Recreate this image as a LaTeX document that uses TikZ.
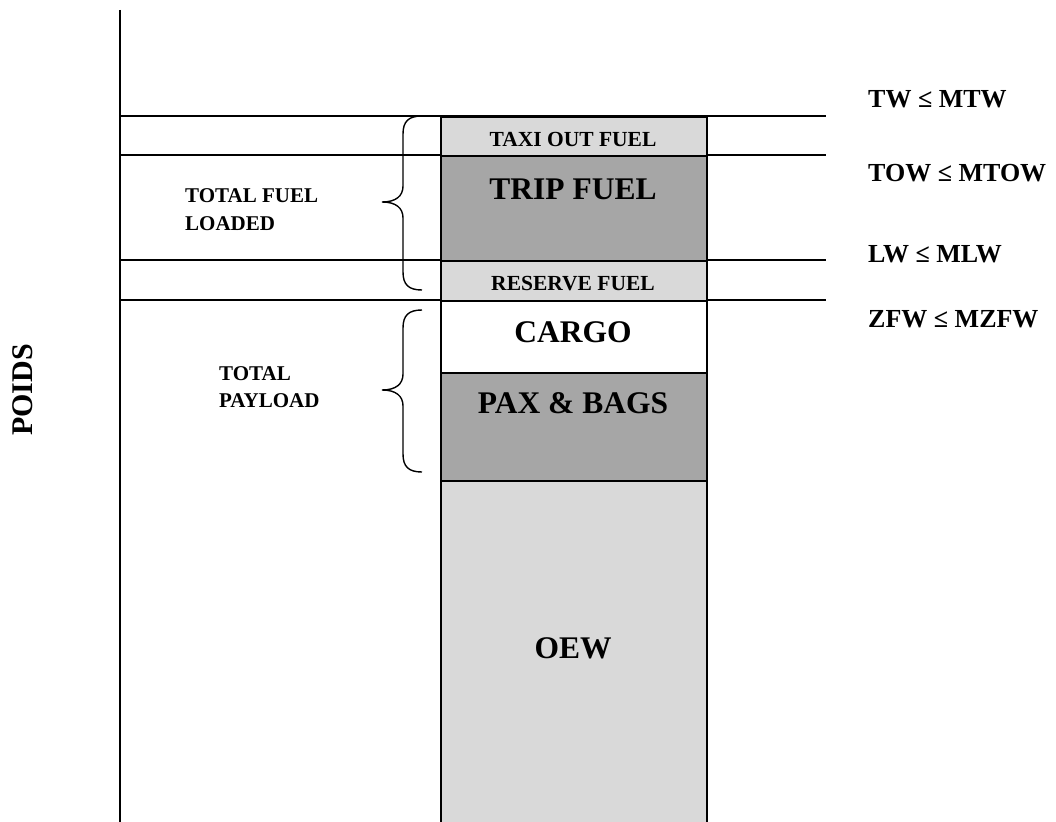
\documentclass[tikz,border=0pt]{standalone}
\usepackage{fontspec}
\setmainfont{Liberation Serif}
\begin{document}
\begin{tikzpicture}[x=1pt,y=-1pt,
  ln/.style={line width=1.7pt,black},
  boxl/.style={draw=black,line width=1.7pt,fill=light,inner sep=0pt,minimum width=266pt,anchor=north west},
  big/.style={font=\fontsize{31.5}{34}\selectfont\bfseries,anchor=base,inner sep=0pt},
  small/.style={font=\fontsize{21.5}{24}\selectfont\bfseries,anchor=base,inner sep=0pt},
  side/.style={font=\fontsize{21}{28}\selectfont\bfseries,anchor=base west,inner sep=0pt},
  lim/.style={font=\fontsize{26}{30}\selectfont\bfseries,anchor=base west,inner sep=0pt},
  brace/.style={line width=1.4pt,black}
]
\definecolor{light}{HTML}{D9D9D9}
\definecolor{dark}{HTML}{A6A6A6}
\clip (0,0) rectangle (1056,821);
\fill[white] (0,0) rectangle (1056,821);
% axis
\coordinate (axtop) at (120,10);
\coordinate (axbot) at (120,830);
\draw[ln] (axtop) -- (axbot);
% horizontal lines
\foreach \yy/\nm in {116/tw,155/tow,260/lw,300/zfw}{
  \coordinate (\nm L) at (120,\yy);
  \coordinate (\nm R) at (826,\yy);
  \draw[ln] (\nm L) -- (\nm R);
}
% column
\node[boxl,minimum height=39pt] (taxi) at (440,116) {};
\begin{scope}
  \clip (441,117) rectangle (705,146.5);
  \node[small] (taxit) at (573,146.5) {TAXI OUT FUEL};
\end{scope}
\node[boxl,fill=dark,minimum height=105pt] (trip) at (440,155) {};
\node[big] (tript) at (573,199) {TRIP FUEL};
\node[boxl,minimum height=40pt] (res) at (440,260) {};
\begin{scope}
  \clip (441,261) rectangle (705,290);
  \node[small] (rest) at (573,290.5) {RESERVE FUEL};
\end{scope}
\node[boxl,fill=white,minimum height=72pt] (cargo) at (440,300) {};
\node[big] (cargot) at (573,342) {CARGO};
\node[boxl,fill=dark,minimum height=108pt] (pax) at (440,372) {};
\node[big] (paxt) at (573,413) {PAX \& BAGS};
\node[boxl,minimum height=360pt] (oew) at (440,480) {};
\node[big] (oewt) at (573,658) {OEW};
% braces
\draw[brace] (422,116) .. controls (409,116) and (403,121) .. (403,134) -- (403,186)
  .. controls (403,196) and (396,202) .. (382,202)
  .. controls (396,202) and (403,208) .. (403,218) -- (403,272)
  .. controls (403,285) and (409,290) .. (422,290);
\draw[brace] (422,310) .. controls (409,310) and (403,315) .. (403,328) -- (403,374)
  .. controls (403,384) and (396,390) .. (382,390)
  .. controls (396,390) and (403,396) .. (403,406) -- (403,454)
  .. controls (403,467) and (409,472) .. (422,472);
% side labels
\node[side] (fuel1) at (185,202) {TOTAL FUEL};
\node[side] (fuel2) at (185,230) {LOADED};
\node[side] (pay1) at (219,380) {TOTAL};
\node[side] (pay2) at (219,407) {PAYLOAD};
% limits
\node[lim] (ltw) at (868,108) {TW ≤ MTW};
\node[lim] (ltow) at (868,181) {TOW ≤ MTOW};
\node[lim] (llw) at (868,262) {LW ≤ MLW};
\node[lim] (lzfw) at (868,327) {ZFW ≤ MZFW};
% axis label
\node[font=\fontsize{30}{34}\selectfont\bfseries,rotate=90,inner sep=0pt] (poids) at (23,390) {POIDS};
\end{tikzpicture}
\end{document}
